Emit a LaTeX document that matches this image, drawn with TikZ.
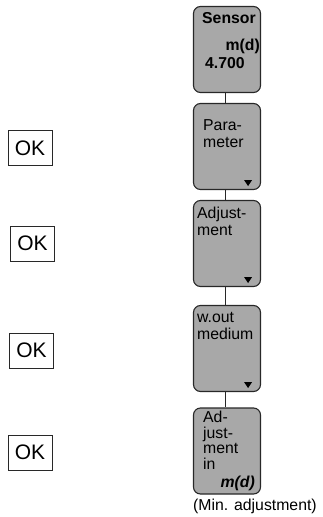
\documentclass[tikz,border=0pt]{standalone}
\usepackage{fontspec}
\setmainfont{Liberation Sans}
\usepackage{tikz}
\usetikzlibrary{positioning}

\definecolor{boxgray}{RGB}{168,168,168}
\definecolor{edgegray}{RGB}{40,40,40}

\tikzset{
  menubox/.style={draw=edgegray, line width=1.1pt, fill=boxgray, rounded corners=7pt,
    minimum width=67pt, minimum height=86pt, inner sep=0pt},
  okbox/.style={draw=edgegray, line width=0.9pt, minimum width=44pt, minimum height=35pt,
    inner sep=0pt, font=\fontsize{21}{23}\selectfont},
  boxtext/.style={anchor=base west, inner sep=0pt, align=left,
    font=\fontsize{15.8}{16.5}\selectfont},
  link/.style={edgegray, line width=1pt}
}

\begin{document}
\begin{tikzpicture}[x=1pt, y=-1pt]
    \useasboundingbox (0,0) rectangle (323,517);

    % Menue-Kaestchen
    \node[menubox] (sensor) at (227,49.5) {};
    \node[menubox] (param)  at (227,146.5) {};
    \node[menubox] (adjust) at (227,243.5) {};
    \node[menubox] (wout)   at (227,348.5) {};
    \node[menubox] (adjin)  at (227,451) {};

    % Verbindungen
    \draw[link] ([xshift=-2pt]sensor.south) -- ([xshift=-2pt]param.north);
    \draw[link] ([xshift=-2pt]param.south) -- ([xshift=-2pt]adjust.north);
    \draw[link] ([xshift=-2pt]adjust.south) -- ([xshift=-2pt]wout.north);
    \draw[link] ([xshift=-2pt]wout.south) -- ([xshift=-2pt]adjin.north);

    % Texte in den Kaestchen (base = letzte Zeile)
    \node[boxtext, font=\fontsize{15.8}{16.5}\selectfont\bfseries] (sensorlbl) at (202,23) {Sensor};
    \node[boxtext, anchor=base east, font=\fontsize{15.8}{16.5}\selectfont\bfseries] (sensorunit) at (260,50) {m(d)};
    \node[boxtext, font=\fontsize{15.8}{16.5}\selectfont\bfseries] (sensorval) at (205,68) {4.700};
    \node[boxtext] (paramlbl)  at (203,147) {Para-\\meter};
    \node[boxtext] (adjustlbl) at (197,235) {Adjust-\\ment};
    \node[boxtext] (woutlbl)   at (197,339) {w.out\\medium};
    \node[boxtext, font=\fontsize{15.8}{15.4}\selectfont] (adjinlbl) at (203,469) {Ad-\\just-\\ment\\in};
    \node[boxtext, anchor=base east, font=\fontsize{15.8}{16.5}\selectfont\bfseries\itshape] (adjinunit) at (255,487) {m(d)};

    % kleine Dreiecke
    \foreach \b in {param,adjust,wout}
      \fill[black] (\b.south east) ++(-17,-10) -- ++(8,0) -- ++(-4,6) -- cycle;

    % Anmerkung
    \node[boxtext] (minnote) at (193,510) {(Min. adjustment)};

    % OK-Tasten
    \node[okbox] (ok1) at (30,148) {OK};
    \node[okbox] (ok2) at (32.5,243.5) {OK};
    \node[okbox] (ok3) at (31.5,350.5) {OK};
    \node[okbox] (ok4) at (30,452.5) {OK};

\end{tikzpicture}
\end{document}
